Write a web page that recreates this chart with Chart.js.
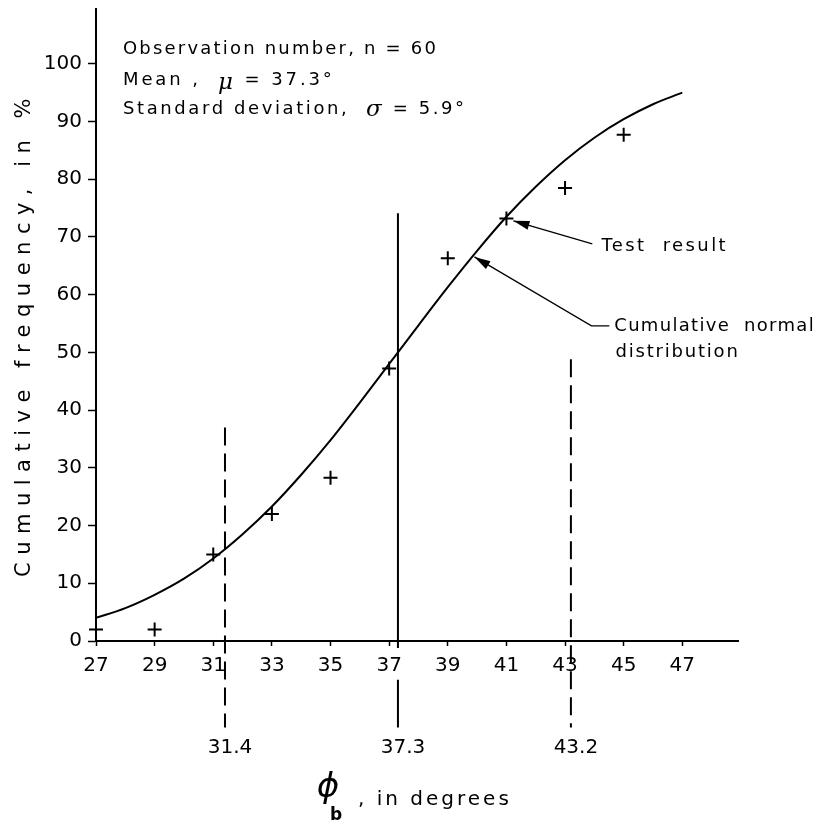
<!DOCTYPE html>
<html>
<head>
<meta charset="utf-8">
<script src="https://cdn.jsdelivr.net/npm/chart.js@4"></script>
<style>
  body { margin: 0; background: #fff; }
</style>
</head>
<body>
<canvas id="chart" width="828" height="822"></canvas>
<script>
// ---------------- DATA ----------------
const xTickValues = [27, 29, 31, 33, 35, 37, 39, 41, 43, 45, 47];
const yTickValues = [0, 10, 20, 30, 40, 50, 60, 70, 80, 90, 100];

// test results (+ markers)
const testPhi  = [27, 29, 31, 33, 35, 37, 39, 41, 43, 45];
const testFreq = [2, 2, 15, 22, 28.3, 47.2, 66.3, 73.2, 78.5, 87.7];

// cumulative normal distribution curve
const curvePhi  = [27, 28, 29, 30, 31, 32, 33, 34, 35, 36, 37, 38, 39, 40, 41, 42, 43, 44, 45, 46, 47];
const curveFreq = [4.0, 5.7, 8.0, 10.8, 14.3, 18.5, 23.3, 28.8, 34.8, 41.3, 48.0, 54.7, 61.3, 67.6, 73.5, 78.7, 83.3, 87.2, 90.4, 93.0, 95.0];

// mean and mean +/- one standard deviation
const refPhi    = [31.4, 37.3, 43.2];
const refTop    = [37, 74.1, 48.8];
const refLabels = ["31.4", "37.3", "43.2"];
const refDashed = [true, false, true];

const FONT = '"DejaVu Sans", sans-serif';

// ---------------- HELPERS ----------------
function drawRuns(ctx, runs, x, y, spacing) {
    // draws pieces of text one after the other, each with its own font
    ctx.textAlign = "left";
    ctx.textBaseline = "middle";
    ctx.letterSpacing = spacing + "px";
    runs.forEach(r => {
        ctx.font = r[1];
        ctx.fillText(r[0], x, y + (r[2] || 0));
        x += ctx.measureText(r[0]).width;
    });
    ctx.letterSpacing = "0px";
}

function arrow(ctx, pts) {
    ctx.beginPath();
    ctx.moveTo(pts[0][0], pts[0][1]);
    for (let i = 1; i < pts.length; i++) ctx.lineTo(pts[i][0], pts[i][1]);
    ctx.lineWidth = 1.3;
    ctx.stroke();
    const tip = pts[pts.length - 1], from = pts[pts.length - 2];
    const a = Math.atan2(tip[1] - from[1], tip[0] - from[0]);
    const len = 16, w = 4.5;
    ctx.beginPath();
    ctx.moveTo(tip[0], tip[1]);
    ctx.lineTo(tip[0] - len * Math.cos(a) + w * Math.sin(a), tip[1] - len * Math.sin(a) - w * Math.cos(a));
    ctx.lineTo(tip[0] - len * Math.cos(a) - w * Math.sin(a), tip[1] - len * Math.sin(a) + w * Math.cos(a));
    ctx.closePath();
    ctx.fill();
}

// ---------------- ANNOTATIONS ----------------
const annotations = {
    id: "annotations",
    afterDatasetsDraw(chart) {
        const ctx = chart.ctx;
        const xs = chart.scales.x, ys = chart.scales.y;
        const px = v => xs.getPixelForValue(v);
        const py = v => ys.getPixelForValue(v);
        ctx.save();
        ctx.strokeStyle = "#000";
        ctx.fillStyle = "#000";

        // vertical lines at mean and mean +/- sigma
        refPhi.forEach((phi, i) => {
            const x = px(phi);
            ctx.lineWidth = 2;
            ctx.beginPath();
            if (refDashed[i]) {
                ctx.setLineDash([18, 8]);
                ctx.moveTo(x, py(refTop[i]));
                ctx.lineTo(x, py(-15));
            } else {
                ctx.setLineDash([]);
                ctx.moveTo(x, py(refTop[i]));
                ctx.lineTo(x, py(-1.2));
                ctx.moveTo(x, py(-6.7));
                ctx.lineTo(x, py(-15));
            }
            ctx.stroke();
            ctx.setLineDash([]);
            ctx.font = "20px " + FONT;
            ctx.textAlign = "center";
            ctx.textBaseline = "middle";
            ctx.fillText(refLabels[i], x + 5, py(-18.5));
        });

        // text block
        const f = "18px " + FONT;
        const fi = "italic 23px \"DejaVu Serif\", serif";
        drawRuns(ctx, [["Observation number, n = 60", f]], px(27.92), py(102.5), 2.2);
        drawRuns(ctx, [["Mean ,  ", f], ["\u03bc", fi, 2], [" = 37.3\u00b0", f]], px(27.92), py(97.1), 2.9);
        drawRuns(ctx, [["Standard deviation,  ", f], ["\u03c3", fi, 1], [" = 5.9\u00b0", f]], px(27.92), py(92.1), 2.6);

        // arrows with labels
        arrow(ctx, [[px(43.93), py(68.8)], [px(41.24), py(72.8)]]);
        drawRuns(ctx, [["Test  result", f]], px(44.24), py(68.45), 2.4);
        arrow(ctx, [[px(44.51), py(54.6)], [px(43.90), py(54.6)], [px(39.91), py(66.55)]]);
        drawRuns(ctx, [["Cumulative  normal", f]], px(44.68), py(54.6), 1.3);
        drawRuns(ctx, [["distribution", f]], px(44.72), py(49.95), 1.8);

        ctx.restore();
    },
    afterDraw(chart) {
        const ctx = chart.ctx;
        const area = chart.chartArea;
        ctx.save();
        ctx.fillStyle = "#000";
        // y axis title
        ctx.translate(area.left - 71, (area.top + area.bottom) / 2 + 9);
        ctx.rotate(-Math.PI / 2);
        ctx.font = "21px " + FONT;
        ctx.letterSpacing = "7.5px";
        ctx.textAlign = "center";
        ctx.textBaseline = "middle";
        ctx.fillText("Cumulative frequency, in %", 0, 0);
        ctx.restore();

        // x axis title
        ctx.save();
        ctx.fillStyle = "#000";
        ctx.textBaseline = "middle";
        ctx.textAlign = "center";
        ctx.font = "italic 34px " + FONT;
        ctx.fillText("\u03d5", 328, area.bottom + 147);
        ctx.font = "bold 17px " + FONT;
        ctx.fillText("b", 336, area.bottom + 175);
        ctx.textAlign = "left";
        ctx.font = "20px " + FONT;
        ctx.letterSpacing = "3px";
        ctx.fillText(", in degrees", 358, area.bottom + 159);
        ctx.restore();
    }
};

// ---------------- CHART ----------------
function initChart() {
    const ctx = document.getElementById("chart").getContext("2d");
    new Chart(ctx, {
        type: "scatter",
        data: {
            datasets: [{
                type: "line",
                label: "Cumulative normal distribution",
                data: curvePhi.map((x, i) => ({ x: x, y: curveFreq[i] })),
                borderColor: "#000",
                borderWidth: 2,
                pointRadius: 0,
                cubicInterpolationMode: "monotone",
                fill: false
            }, {
                label: "Test result",
                data: testPhi.map((x, i) => ({ x: x, y: testFreq[i] })),
                pointStyle: "cross",
                pointRadius: 7,
                borderColor: "#000",
                borderWidth: 2,
                backgroundColor: "#000",
                clip: false
            }]
        },
        options: {
            responsive: false,
            animation: false,
            layout: { padding: { top: 7, right: 90, left: 0, bottom: 0 } },
            plugins: { legend: { display: false }, tooltip: { enabled: false } },
            scales: {
                x: {
                    type: "linear",
                    min: 27,
                    max: 48.9,
                    afterBuildTicks: axis => { axis.ticks = xTickValues.map(v => ({ value: v })); },
                    afterFit: axis => { axis.height = 181; axis.paddingLeft = 0; axis.paddingRight = 0; },
                    border: { display: true, color: "#000", width: 2 },
                    grid: { drawOnChartArea: false, drawTicks: true, tickLength: 5, tickColor: "#000", tickWidth: 1.5 },
                    ticks: { color: "#000", font: { family: FONT, size: 20 }, padding: 8, maxRotation: 0, autoSkip: false }
                },
                y: {
                    type: "linear",
                    min: 0,
                    max: 109.5,
                    afterBuildTicks: axis => { axis.ticks = yTickValues.map(v => ({ value: v })); },
                    afterFit: axis => { axis.width = 96; axis.paddingTop = 0; axis.paddingBottom = 0; },
                    border: { display: true, color: "#000", width: 2 },
                    grid: { drawOnChartArea: false, drawTicks: true, tickLength: 8, tickColor: "#000", tickWidth: 1.5 },
                    ticks: { color: "#000", font: { family: FONT, size: 20 }, padding: 6, autoSkip: false }
                }
            }
        },
        plugins: [annotations]
    });
}

window.onload = initChart;
</script>
</body>
</html>
